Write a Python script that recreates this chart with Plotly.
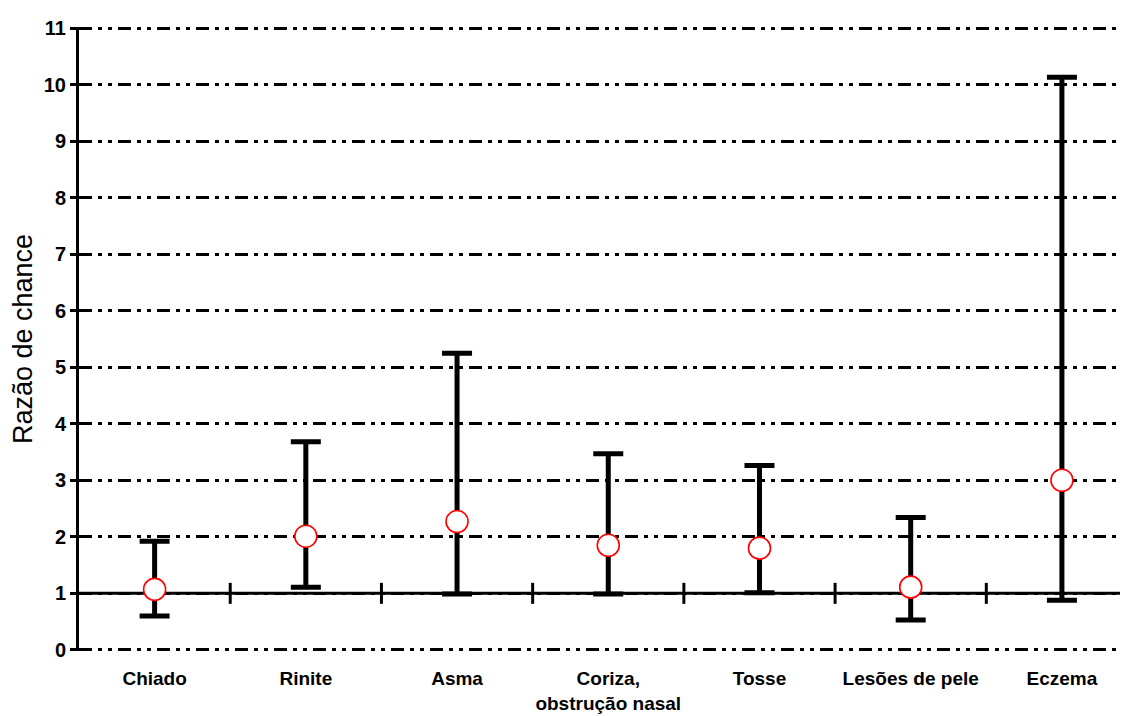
import plotly.graph_objects as go

categories = ["Chiado", "Rinite", "Asma", "Coriza,<br>obstrução nasal", "Tosse", "Lesões de pele", "Eczema"]
odds_ratio = [1.07, 2.01, 2.27, 1.85, 1.80, 1.11, 3.00]
ci_lower = [0.60, 1.11, 0.99, 0.99, 1.01, 0.53, 0.88]
ci_upper = [1.92, 3.68, 5.25, 3.47, 3.26, 2.34, 10.13]
y_ticks = list(range(0, 12))
reference_value = 1

xi = list(range(len(categories)))
err_plus = [u - p for u, p in zip(ci_upper, odds_ratio)]
err_minus = [p - l for p, l in zip(odds_ratio, ci_lower)]
boundaries = [i + 0.5 for i in range(len(categories) - 1)]

fig = go.Figure()

# reference line at 1
fig.add_trace(go.Scatter(
    x=[-0.5, 6.6], y=[reference_value, reference_value], mode="lines",
    line=dict(color="black", width=3), hoverinfo="skip", showlegend=False))
# small ticks at category boundaries
fig.add_trace(go.Scatter(
    x=boundaries, y=[reference_value] * len(boundaries), mode="markers",
    marker=dict(symbol="line-ns", size=15, line=dict(color="black", width=3)),
    hoverinfo="skip", showlegend=False))
# odds ratios with confidence intervals
fig.add_trace(go.Scatter(
    x=xi, y=odds_ratio, mode="markers",
    marker=dict(symbol="circle", size=22, color="white", line=dict(color="red", width=1.6)),
    error_y=dict(type="data", symmetric=False, array=err_plus, arrayminus=err_minus,
                 color="black", thickness=5, width=15),
    showlegend=False))

# page body has an 8px margin; size the figure to compensate
fig.update_layout(
    width=1120, height=708,
    margin=dict(l=71, r=0, t=19, b=65),
    plot_bgcolor="white", paper_bgcolor="white",
    font=dict(family="Liberation Sans, Arial, sans-serif", color="black"),
)
fig.update_xaxes(
    range=[-0.5, 6.437], tickmode="array", tickvals=xi, ticktext=categories,
    tickfont=dict(size=19, family="Liberation Sans, Arial, sans-serif", weight="bold"),
    showgrid=False, zeroline=False, showline=False, ticks="",
    ticklabelstandoff=14, automargin=False,
)
fig.update_yaxes(
    range=[-0.02, 11.02], tickmode="array", tickvals=y_ticks,
    tickfont=dict(size=20, family="Liberation Sans, Arial, sans-serif", weight="bold"),
    showgrid=True, gridcolor="black", gridwidth=2.5, griddash="13px,6px,4px,6px,4px,6px",
    zeroline=False, showline=True, linecolor="black", linewidth=3,
    ticks="outside", ticklen=6, tickwidth=3, tickcolor="black",
    title=dict(text="Razão de chance", font=dict(size=27), standoff=12),
    automargin=False,
)

fig.write_html("out.html")
